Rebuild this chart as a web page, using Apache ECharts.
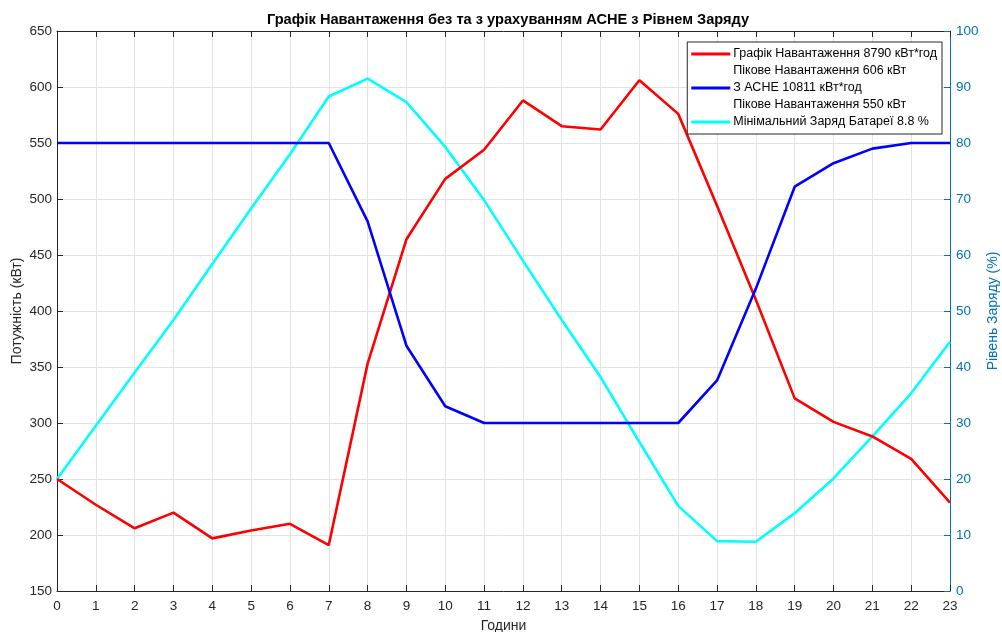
<!DOCTYPE html>
<html>
<head>
<meta charset="utf-8">
<script src="https://cdn.jsdelivr.net/npm/echarts@6/dist/echarts.min.js"></script>
<style>html,body{margin:0;padding:0;background:#fff}#c{width:1002px;height:632px}</style>
</head>
<body>
<div id="c"></div>
<script>
const hours = ['0','1','2','3','4','5','6','7','8','9','10','11','12','13','14','15','16','17','18','19','20','21','22','23'];
const loadKW = [250,227,206,220,197,204,210,191,353,464,518,544,588,565,562,606,576,494,410,322,301,288,268,229];
const withBessKW = [550,550,550,550,550,550,550,550,480,369,315,300,300,300,300,300,300,338,420,511,532,545,550,550];
const chargePct = [20,29.5,39,48.4,58.4,68.3,78,88.3,91.5,87.3,79.3,69.8,59,48.4,38.2,26.6,15.2,8.9,8.8,13.9,20.1,27.6,35.3,44.5];
const seriesNames = ['Графік Навантаження 8790 кВт*год','Пікове Навантаження 606 кВт','З АСНЕ 10811 кВт*год','Пікове Навантаження 550 кВт','Мінімальний Заряд Батареї 8.8 %'];
const titleText = 'Графік Навантаження без та з урахуванням АСНЕ з Рівнем Заряду';

const FONT = 'Liberation Sans, Arial, sans-serif';
const AX = '#262626';
const BLUEAX = '#0072BD';
const GRID = '#e3e3e3';

const chart = echarts.init(document.getElementById('c'));
chart.setOption({
  animation: false,
  backgroundColor: '#fff',
  textStyle: {fontFamily: FONT},
  title: {
    text: titleText, left: 503, top: 7, textAlign: 'center',
    textStyle: {fontSize: 14.6, fontWeight: 'bold', color: '#000', fontFamily: FONT}
  },
  grid: {left: 57, right: 52, top: 31, bottom: 41, containLabel: false, outerBoundsMode: 'none'},
  legend: {
    orient: 'vertical', right: 60, top: 42, icon: 'rect',
    backgroundColor: '#fff', borderColor: '#262626', borderWidth: 1,
    padding: [5, 5, 5, 4], itemGap: 3, itemWidth: 39, itemHeight: 3,
    textStyle: {fontSize: 12.5, color: '#000', fontFamily: FONT, lineHeight: 14, padding: [0, 0, 0, -2]},
    data: seriesNames
  },
  xAxis: [{
    type: 'category', data: hours, boundaryGap: false,
    name: 'Години', nameLocation: 'middle', nameGap: 28, nameMoveOverlap: false,
    nameTextStyle: {fontSize: 14, color: AX},
    axisLine: {lineStyle: {color: AX, width: 1}},
    axisTick: {inside: true, length: 6, lineStyle: {color: AX}, alignWithLabel: true},
    axisLabel: {fontSize: 13.5, color: AX, margin: 8, interval: 0},
    splitLine: {show: true, lineStyle: {color: GRID, width: 1}}
  },{
    type: 'category', data: hours, boundaryGap: false, position: 'top',
    axisLine: {onZero: false, lineStyle: {color: AX, width: 1}},
    axisTick: {inside: true, length: 6, lineStyle: {color: AX}},
    axisLabel: {show: false}, splitLine: {show: false}
  }],
  yAxis: [{
    type: 'value', min: 150, max: 650, interval: 50, position: 'left',
    name: 'Потужність (кВт)', nameLocation: 'middle', nameGap: 33, nameRotate: 90, nameMoveOverlap: false,
    nameTextStyle: {fontSize: 14, color: AX},
    axisLine: {show: true, lineStyle: {color: AX, width: 1}},
    axisTick: {show: true, inside: true, length: 6, lineStyle: {color: AX}},
    axisLabel: {fontSize: 13.5, color: AX, margin: 5},
    splitLine: {show: true, lineStyle: {color: GRID, width: 1}}
  },{
    type: 'value', min: 0, max: 100, interval: 10, position: 'right',
    name: 'Рівень Заряду (%)', nameLocation: 'middle', nameGap: 36, nameRotate: 90, nameMoveOverlap: false,
    nameTextStyle: {fontSize: 14, color: BLUEAX},
    axisLine: {show: true, lineStyle: {color: BLUEAX, width: 1}},
    axisTick: {show: true, inside: true, length: 6, lineStyle: {color: BLUEAX}},
    axisLabel: {fontSize: 13.5, color: BLUEAX, margin: 6},
    splitLine: {show: false}
  }],
  series: [
    {name: seriesNames[0], type: 'line', data: loadKW, yAxisIndex: 0, symbol: 'none', color: '#ff0000', lineStyle: {width: 2.6, color: '#ff0000'}, z: 3},
    {name: seriesNames[1], type: 'line', data: [], symbol: 'none', color: 'rgba(255,255,255,0)', lineStyle: {width: 0, color: 'rgba(255,255,255,0)'}},
    {name: seriesNames[2], type: 'line', data: withBessKW, yAxisIndex: 0, symbol: 'none', color: '#0000ff', lineStyle: {width: 2.6, color: '#0000ff'}, z: 3},
    {name: seriesNames[3], type: 'line', data: [], symbol: 'none', color: 'rgba(255,255,255,0)', lineStyle: {width: 0, color: 'rgba(255,255,255,0)'}},
    {name: seriesNames[4], type: 'line', data: chargePct, yAxisIndex: 1, symbol: 'none', color: '#00ffff', lineStyle: {width: 2.6, color: '#00ffff'}, z: 2}
  ]
});
</script>
</body>
</html>
